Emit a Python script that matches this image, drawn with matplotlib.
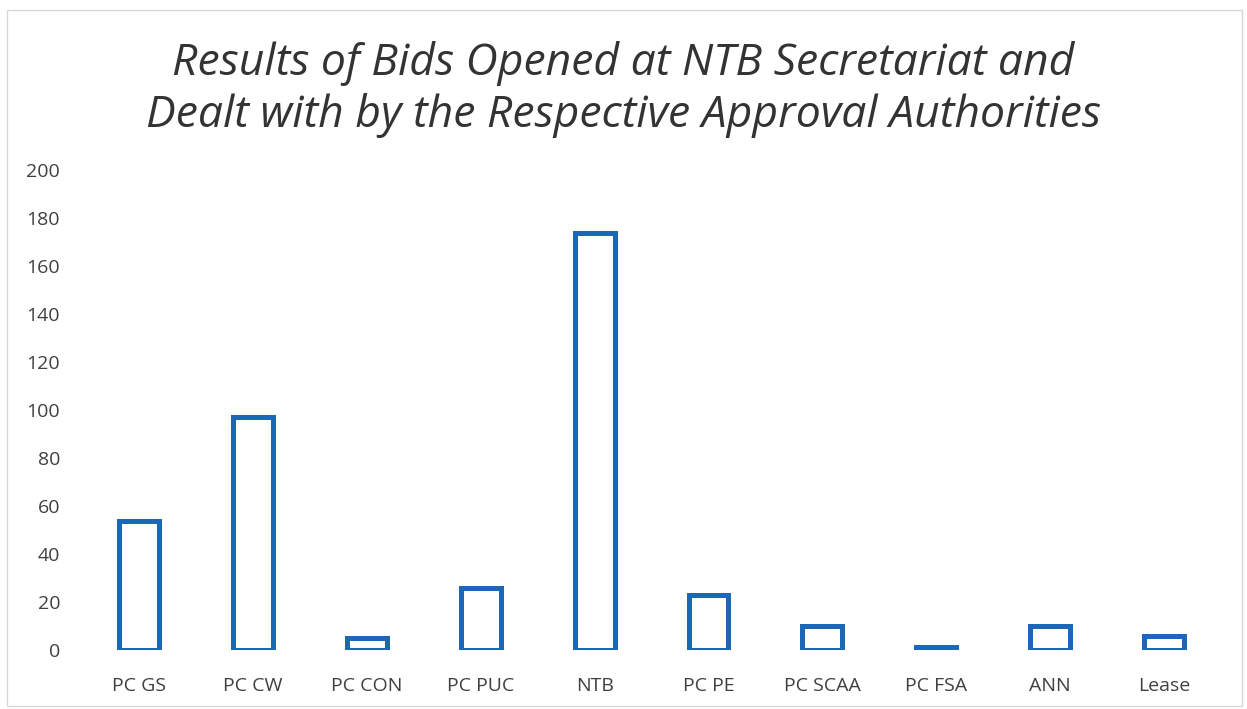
import matplotlib.pyplot as plt
from matplotlib.patches import Rectangle

categories = ['PC GS', 'PC CW', 'PC CON', 'PC PUC', 'NTB',
              'PC PE', 'PC SCAA', 'PC FSA', 'ANN', 'Lease']
bids = [54, 97, 5, 26, 174, 23, 10, 1.5, 10, 6]
y_ticks = [0, 20, 40, 60, 80, 100, 120, 140, 160, 180, 200]

blue = '#1c68b6'
text_col = '#404040'

plt.rcParams['font.family'] = ['Open Sans', 'DejaVu Sans']

fig = plt.figure(figsize=(12.47, 7.09), dpi=100)
ax = fig.add_axes([0.066, 0.083, 0.913, 0.677])

ax.bar(range(len(categories)), bids, width=0.35, color='white',
       edgecolor=blue, linewidth=3.6)

ax.set_xlim(-0.5, len(categories) - 0.5)
ax.set_ylim(0, 200)
ax.set_yticks(y_ticks)
ax.set_xticks(range(len(categories)))
ax.set_xticklabels(categories)
ax.tick_params(axis='both', length=0, labelsize=14, colors=text_col)
ax.tick_params(axis='x', pad=19)
ax.tick_params(axis='y', pad=16)
for s in ax.spines.values():
    s.set_visible(False)

fig.text(0.5, 0.874, 'Results of Bids Opened at NTB Secretariat and\n'
         'Dealt with by the Respective Approval Authorities',
         ha='center', va='center', fontsize=32, style='italic',
         color='#333333', linespacing=1.22)

fig.patches.append(Rectangle((0.006, 0.004), 0.99, 0.982, transform=fig.transFigure,
                             fill=False, edgecolor='#d8d8d8', linewidth=1))

fig.savefig('out.png', dpi=100)
